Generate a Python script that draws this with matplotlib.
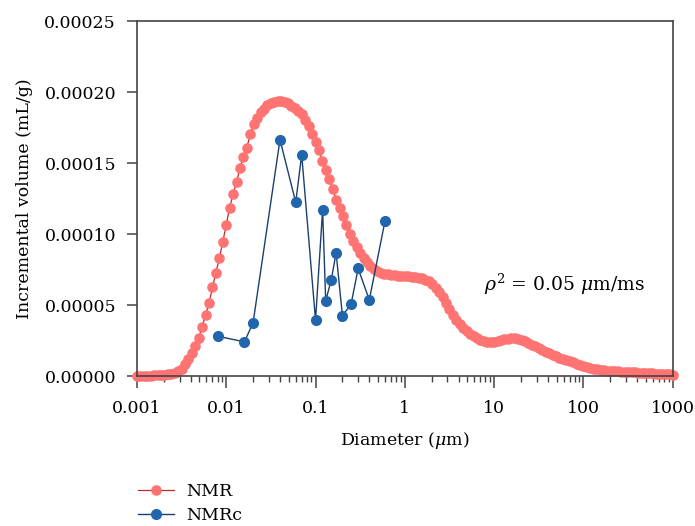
"""
NMR pore size distribution vs NMRc
"""

import numpy as np
import matplotlib.pyplot as plt
from matplotlib.ticker import FixedLocator, LogLocator, NullFormatter, FormatStrFormatter

plt.rcParams['font.family'] = ['DejaVu Serif']
plt.rcParams['mathtext.fontset'] = 'dejavuserif'

# NMR curve: log-spaced diameter bins (um), incremental volume (x1e-5 mL/g)
nmr_d = np.logspace(-3, 3, 157)
nmr_v = np.array([
  0.04, 0.04, 0.04, 0.04, 0.04, 0.05, 0.06, 0.08, 0.10, 0.13,
  0.17, 0.22, 0.33, 0.53, 0.84, 1.23, 1.63, 2.10, 2.67, 3.48,
  4.31, 5.15, 6.25, 7.27, 8.32, 9.45, 10.64, 11.87, 12.81, 13.69,
  14.63, 15.44, 16.08, 17.02, 17.73, 18.19, 18.57, 18.83, 19.07, 19.24,
  19.31, 19.36, 19.38, 19.33, 19.21, 19.03, 18.86, 18.68, 18.43, 18.05,
  17.59, 17.03, 16.47, 15.91, 15.17, 14.50, 13.87, 13.17, 12.43, 11.83,
  11.24, 10.64, 10.04, 9.52, 9.06, 8.67, 8.32, 8.01, 7.76, 7.53,
  7.39, 7.28, 7.21, 7.16, 7.13, 7.09, 7.08, 7.07, 7.05, 7.04,
  7.01, 6.98, 6.94, 6.88, 6.80, 6.69, 6.50, 6.21, 5.90, 5.55,
  5.13, 4.71, 4.28, 3.97, 3.69, 3.42, 3.20, 2.95, 2.79, 2.67,
  2.56, 2.47, 2.42, 2.40, 2.42, 2.47, 2.53, 2.58, 2.63, 2.65,
  2.65, 2.61, 2.56, 2.46, 2.33, 2.20, 2.09, 1.97, 1.84, 1.72,
  1.62, 1.51, 1.40, 1.30, 1.21, 1.12, 1.04, 0.96, 0.88, 0.80,
  0.72, 0.65, 0.58, 0.52, 0.47, 0.44, 0.41, 0.39, 0.37, 0.35,
  0.34, 0.32, 0.31, 0.29, 0.28, 0.27, 0.25, 0.24, 0.22, 0.21,
  0.20, 0.18, 0.17, 0.15, 0.14, 0.12, 0.10,
]) * 1e-5

# NMRc points
nmrc_d = [0.008, 0.016, 0.02, 0.04, 0.06, 0.07, 0.1, 0.12, 0.13, 0.15,
          0.17, 0.2, 0.25, 0.3, 0.4, 0.6]
nmrc_v = np.array([2.81, 2.41, 3.77, 16.64, 12.24, 15.59, 3.93, 11.70, 5.31, 6.76,
                   8.68, 4.26, 5.06, 7.58, 5.36, 10.93]) * 1e-5

xticks = [0.001, 0.01, 0.1, 1, 10, 100, 1000]
xticklabels = ["0.001", "0.01", "0.1", "1", "10", "100", "1000"]
yticks = [0.0, 0.00005, 0.0001, 0.00015, 0.0002, 0.00025]

fig = plt.figure(figsize=(6.95, 5.26), dpi=100)
ax = fig.add_axes([0.197, 0.285, 0.771, 0.675])

ax.plot(nmr_d, nmr_v, color="#c0282a", lw=0.9, marker="o", ms=6.6,
        mfc="#ff7373", mec="#ff7373", label="NMR", clip_on=False, zorder=2)
ax.plot(nmrc_d, nmrc_v, color="#1b3f6e", lw=1.0, marker="o", ms=7,
        mfc="#2166ac", mec="#2166ac", label="NMRc", zorder=3)

ax.set_xscale("log")
ax.set_xlim(0.001, 1000)
ax.set_ylim(0, 0.00025)
ax.xaxis.set_major_locator(FixedLocator(xticks))
ax.set_xticklabels(xticklabels)
ax.xaxis.set_minor_locator(LogLocator(base=10, subs=np.arange(2, 10), numticks=20))
ax.xaxis.set_minor_formatter(NullFormatter())
ax.set_yticks(yticks)
ax.yaxis.set_major_formatter(FormatStrFormatter("%.5f"))

for s in ax.spines.values():
  s.set_color("#444444")
  s.set_linewidth(1.2)
ax.tick_params(axis="x", which="major", direction="out", length=8.5, width=1.1,
               color="#444444", labelsize=12.5, pad=9)
ax.tick_params(axis="y", which="major", direction="out", length=7, width=1.1,
               color="#444444", labelsize=12.5, pad=8)
ax.tick_params(axis="x", which="minor", direction="out", length=4.3, width=1.0,
               color="#444444")

ax.set_xlabel(r"Diameter ($\mu$m)", fontsize=12.5, labelpad=9)
ax.set_ylabel("Incremental volume (mL/g)", fontsize=12.5, labelpad=8)

ax.text(7.7, 0.0000646, r"$\rho^2$ = 0.05 $\mu$m/ms", fontsize=13.5, ha="left", va="center")

fig.legend(loc="upper left", bbox_to_anchor=(0.188, 0.095), frameon=False,
           fontsize=12.5, handlelength=2.1, handletextpad=0.7, labelspacing=0.4,
           borderaxespad=0)

fig.savefig("out.png", dpi=100)
plt.close()
